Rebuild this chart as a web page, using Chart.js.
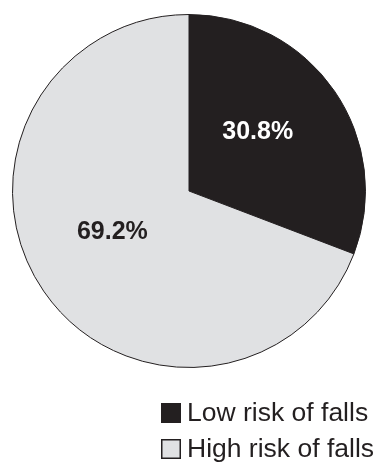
<!DOCTYPE html>
<html>
<head>
<meta charset="utf-8">
<script src="https://cdn.jsdelivr.net/npm/chart.js@4"></script>
<style>
  html, body { margin: 0; padding: 0; background: #fff; }
  #wrap { width: 374px; height: 464px; position: relative; }
</style>
</head>
<body>
<div id="wrap"><canvas id="riskChart"></canvas></div>
<script>
const categories = ['Low risk of falls', 'High risk of falls'];
const shares = [30.8, 69.2];
const sliceColors = ['#231f20', '#e0e1e3'];
const labelColors = ['#ffffff', '#231f20'];

// percent labels inside slices
const sliceLabels = {
  id: 'sliceLabels',
  afterDatasetsDraw(chart) {
    const ctx = chart.ctx;
    const meta = chart.getDatasetMeta(0);
    ctx.save();
    ctx.font = 'bold 25px "Liberation Sans", Arial, sans-serif';
    ctx.textAlign = 'center';
    ctx.textBaseline = 'middle';
    meta.data.forEach((arc, i) => {
      const p = arc.getCenterPoint();
      ctx.fillStyle = labelColors[i];
      ctx.fillText(shares[i].toFixed(1) + '%', p.x - 4, p.y - 9);
    });
    ctx.restore();
  }
};

// legend stacked at bottom right
const sideLegend = {
  id: 'sideLegend',
  afterDraw(chart) {
    const ctx = chart.ctx;
    ctx.save();
    ctx.font = '26.5px "Liberation Sans", Arial, sans-serif';
    ctx.textBaseline = 'middle';
    categories.forEach((name, i) => {
      const x = 161, y = 403 + i * 36;
      ctx.fillStyle = sliceColors[i];
      ctx.fillRect(x, y, 20, 20);
      if (i === 1) {
        ctx.strokeStyle = '#231f20';
        ctx.lineWidth = 1.5;
        ctx.strokeRect(x + 0.75, y + 0.75, 18.5, 18.5);
      }
      ctx.fillStyle = '#231f20';
      ctx.fillText(name, x + 26, y + 11);
    });
    ctx.restore();
  }
};

new Chart(document.getElementById('riskChart'), {
  type: 'pie',
  data: {
    labels: categories,
    datasets: [{
      data: shares,
      backgroundColor: sliceColors,
      borderColor: '#231f20',
      borderWidth: 1
    }]
  },
  options: {
    responsive: true,
    maintainAspectRatio: false,
    animation: false,
    layout: { padding: { left: 12, right: 8, top: 14, bottom: 96 } },
    plugins: {
      legend: { display: false },
      tooltip: { enabled: false }
    }
  },
  plugins: [sliceLabels, sideLegend]
});
</script>
</body>
</html>
